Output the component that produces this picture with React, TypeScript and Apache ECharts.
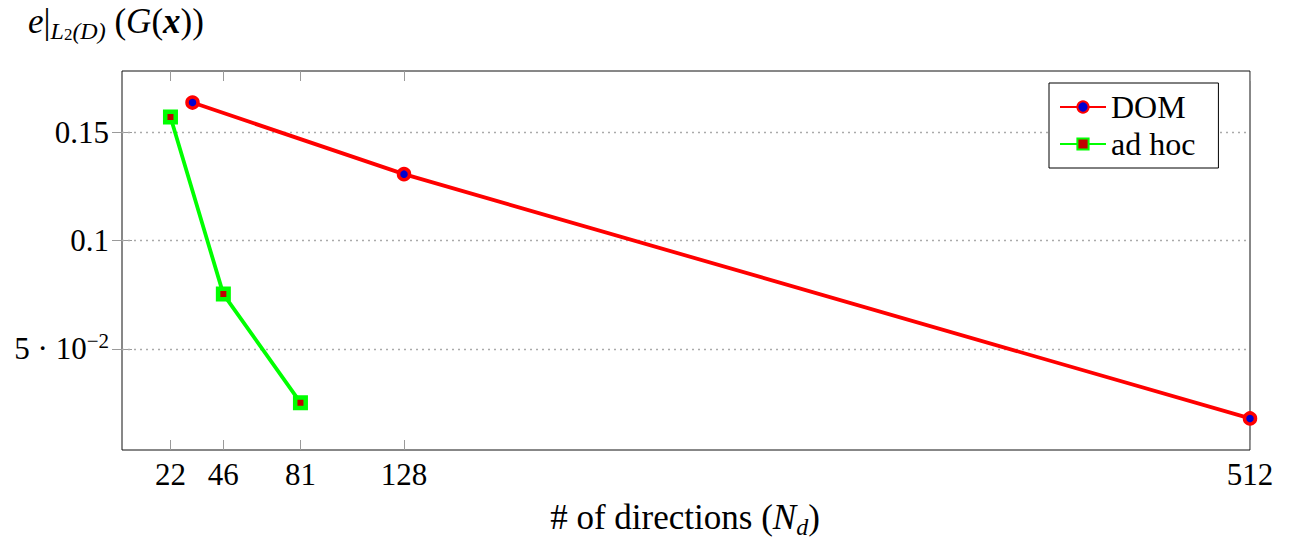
import { useEffect, useRef } from "react";
import * as echarts from "echarts";

const xTicks = [22, 46, 81, 128, 512];
const yTicks = [0.05, 0.1, 0.15];
const domX = [32, 128, 512];
const domY = [0.1639, 0.1308, 0.0178];
const adhocX = [22, 46, 81];
const adhocY = [0.1572, 0.0753, 0.0251];
const xRange = [0, 512];
const yRange = [0.0032, 0.1785];

const FONT = "Liberation Serif";

function yLabel(v: number): string {
  if (Math.abs(v - 0.05) < 1e-9) return "{a|5 · 10}{sup|−2}";
  return "{a|" + String(Math.round(v * 100) / 100) + "}";
}

export default function App() {
  const ref = useRef<HTMLDivElement>(null);
  useEffect(() => {
    const chart = echarts.init(ref.current!, null, { renderer: "svg" });
    const tick = (vals: number[]) => ({
      show: true,
      inside: true,
      length: 10,
      lineStyle: { color: "#9a9a9a", width: 1 },
      customValues: vals,
    });
    const labelFont = { fontFamily: FONT, fontSize: 31, color: "#000" };
    chart.setOption({
      animation: false,
      textStyle: { fontFamily: FONT },
      grid: {
        left: 122,
        right: 48,
        top: 71,
        bottom: 90,
        show: true,
        borderColor: "#111",
        borderWidth: 1,
        backgroundColor: "transparent",
      },
      xAxis: [
        {
          type: "value",
          min: xRange[0],
          max: xRange[1],
          position: "bottom",
          axisLine: { show: false },
          axisTick: tick(xTicks),
          axisLabel: { ...labelFont, margin: 9, customValues: xTicks },
          splitLine: { show: false },
        },
        {
          type: "value",
          min: xRange[0],
          max: xRange[1],
          position: "top",
          axisLine: { show: false },
          axisTick: tick(xTicks),
          axisLabel: { show: false, customValues: xTicks },
          splitLine: { show: false },
        },
      ],
      yAxis: [
        {
          type: "value",
          min: yRange[0],
          max: yRange[1],
          position: "left",
          axisLine: { show: false },
          axisTick: tick(yTicks),
          axisLabel: {
            margin: 13,
            customValues: yTicks,
            formatter: yLabel,
            rich: {
              a: { ...labelFont, lineHeight: 36 },
              sup: { fontFamily: FONT, fontSize: 21, color: "#000", lineHeight: 24, verticalAlign: "top" },
            },
          },
          splitLine: { show: false },
        },
        {
          type: "value",
          min: yRange[0],
          max: yRange[1],
          position: "right",
          axisLine: { show: false },
          axisTick: tick(yTicks),
          axisLabel: { show: false, customValues: yTicks },
          splitLine: { show: false },
        },
      ],
      legend: {
        data: ["DOM", "ad hoc"],
        orient: "vertical",
        left: 1049,
        top: 83,
        backgroundColor: "#fff",
        borderColor: "#000",
        borderWidth: 1,
        borderRadius: 0,
        padding: [8, 23, 8, 10],
        itemWidth: 46,
        itemHeight: 14,
        itemGap: 5,
        textStyle: { fontFamily: FONT, fontSize: 32, color: "#000", lineHeight: 32 },
      },
      graphic: [
        {
          type: "text",
          x: 28,
          y: -1,
          style: {
            text: "{i|e}{n||}{s|L}{ss|2}{s|(D)}{n| (}{i|G}{n|(}{b|x}{n|))}",
            verticalAlign: "top",
            align: "left",
            rich: {
              i: { fontFamily: FONT, fontSize: 35, fontStyle: "italic", lineHeight: 44, fill: "#000" },
              n: { fontFamily: FONT, fontSize: 35, lineHeight: 44, fill: "#000" },
              b: { fontFamily: FONT, fontSize: 35, fontStyle: "italic", fontWeight: "bold", lineHeight: 44, fill: "#000" },
              s: { fontFamily: FONT, fontSize: 24, fontStyle: "italic", lineHeight: 24, verticalAlign: "bottom", fill: "#000" },
              ss: { fontFamily: FONT, fontSize: 17, lineHeight: 16, verticalAlign: "bottom", fill: "#000" },
            },
          },
        },
        {
          type: "text",
          x: 685,
          y: 495,
          style: {
            text: "{n|# of directions (}{i|N}{s|d}{n|)}",
            verticalAlign: "top",
            align: "center",
            rich: {
              n: { fontFamily: FONT, fontSize: 35, lineHeight: 44, fill: "#000" },
              i: { fontFamily: FONT, fontSize: 35, fontStyle: "italic", lineHeight: 44, fill: "#000" },
              s: { fontFamily: FONT, fontSize: 24, fontStyle: "italic", lineHeight: 24, verticalAlign: "bottom", fill: "#000" },
            },
          },
        },
      ],
      series: [
        {
          name: "DOM",
          type: "line",
          data: domX.map((x, i) => [x, domY[i]]),
          symbol: "circle",
          symbolSize: 11,
          lineStyle: { color: "#ff0000", width: 3.8 },
          itemStyle: { color: "#0000d0", borderColor: "#ff0000", borderWidth: 3.5 },
          markLine: {
            silent: true,
            z: 1,
            symbol: ["none", "none"],
            label: { show: false },
            lineStyle: { type: [2, 4], color: "#aaaaaa", width: 1.3 },
            data: yTicks.map((v) => ({ yAxis: v })),
          },
        },
        {
          name: "ad hoc",
          type: "line",
          data: adhocX.map((x, i) => [x, adhocY[i]]),
          symbol: "rect",
          symbolSize: 10.5,
          lineStyle: { color: "#00ff00", width: 3.8 },
          itemStyle: { color: "#c00000", borderColor: "#00ff00", borderWidth: 4.5 },
        },
      ],
    });
    return () => chart.dispose();
  }, []);
  return (
    <div
      ref={ref}
      style={{ position: "fixed", left: 0, top: 0, width: 1298, height: 540, background: "#fff" }}
    />
  );
}
